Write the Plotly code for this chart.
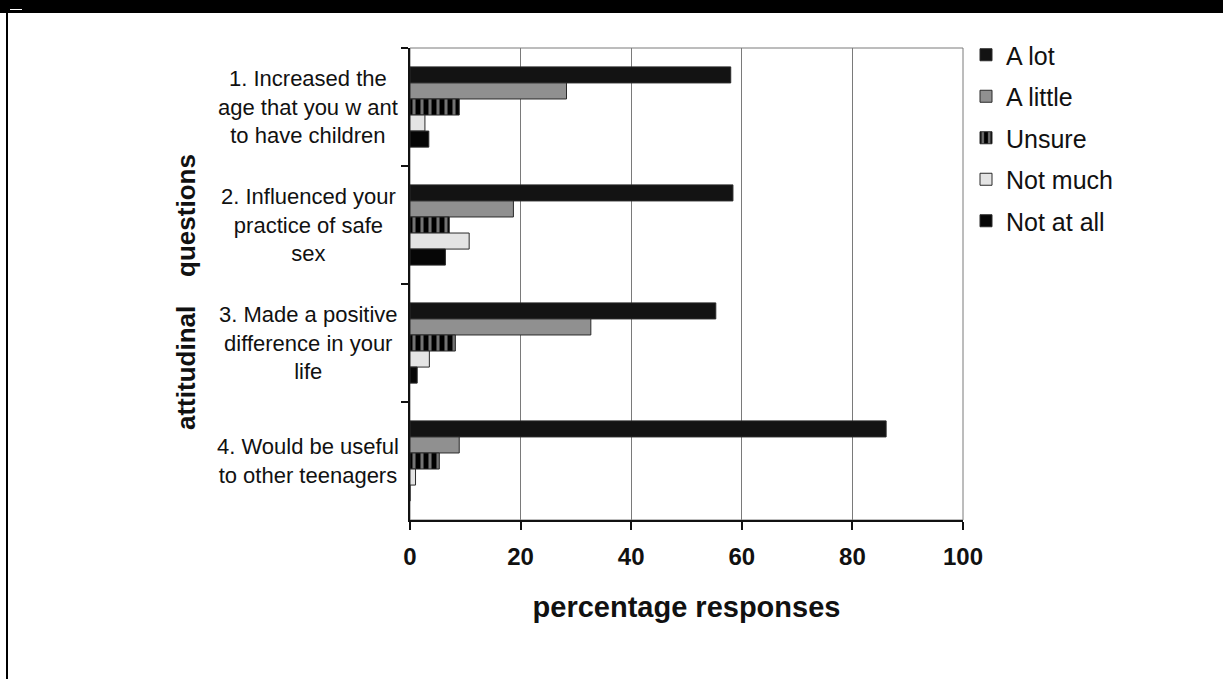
import plotly.graph_objects as go

categories = [
    "1. Increased the<br>age that you w ant<br>to have children",
    "2. Influenced your<br>practice of safe<br>sex",
    "3. Made a positive<br>difference in your<br>life",
    "4. Would be useful<br>to other teenagers",
]
series_names = ["A lot", "A little", "Unsure", "Not much", "Not at all"]
a_lot = [58.0, 58.4, 55.3, 86.1]
a_little = [28.3, 18.7, 32.7, 8.9]
unsure = [8.9, 7.1, 8.2, 5.3]
not_much = [2.7, 10.7, 3.5, 1.0]
not_at_all = [3.4, 6.4, 1.3, 0.0]
x_ticks = [0, 20, 40, 60, 80, 100]

W, H = 1223, 679
L, R, T, B = 410, 963, 48, 520

def px_x(p):
    return (p - L) / (R - L)

def px_y(p):
    return (B - p) / (B - T)

FONT = "Liberation Sans, Arial, sans-serif"

fig = go.Figure()
styles = [
    dict(color="#131313"),
    dict(color="#909090"),
    dict(color="#000000", pattern=dict(shape="|", fgcolor="#e6e6e6", bgcolor="#000000",
                                       size=8, solidity=0.38, fillmode="overlay")),
    dict(color="#e4e4e4"),
    dict(color="#060606"),
]
for name, vals, st in zip(series_names, [a_lot, a_little, unsure, not_much, not_at_all], styles):
    fig.add_trace(go.Bar(
        x=vals, y=categories, orientation="h", name=name,
        marker=dict(line=dict(color="#2a2a2a", width=1), **st),
        legendgroup=name,
    ))

fig.update_layout(
    width=W, height=H,
    margin=dict(l=L, r=W - R, t=T, b=H - B, pad=0),
    paper_bgcolor="white", plot_bgcolor="white",
    barmode="group", bargap=0.32, bargroupgap=0,
    font=dict(family=FONT, color="#111111"),
    showlegend=True,
    legend=dict(x=px_x(966), y=px_y(32), xanchor="left", yanchor="top",
                font=dict(size=25, family=FONT, color="#111111"),
                tracegroupgap=6, bgcolor="rgba(0,0,0,0)", itemwidth=30),
)
fig.update_xaxes(
    range=[0, 100], tickvals=x_ticks, ticktext=[str(v) for v in x_ticks],
    showgrid=True, gridcolor="#7a7a7a", gridwidth=1,
    showline=True, linecolor="#111111", linewidth=2,
    ticks="outside", ticklen=8, tickwidth=2, tickcolor="#111111",
    ticklabelstandoff=6,
    tickfont=dict(size=24, family=FONT, weight="bold", color="#111111"),
    zeroline=False,
    title=dict(text="percentage responses", standoff=28,
               font=dict(size=29, family=FONT, weight="bold", color="#111111")),
)
fig.update_yaxes(
    autorange="reversed", showticklabels=False,
    showline=True, linecolor="#111111", linewidth=2,
    ticks="outside", tickson="boundaries", ticklen=7, tickwidth=2, tickcolor="#111111",
    showgrid=False, zeroline=False,
)

annotations = []
for c in categories:
    annotations.append(dict(x=px_x(308), y=c, xref="paper", yref="y", text=c,
                            showarrow=False, xanchor="center", yanchor="middle", align="center",
                            font=dict(size=22, family=FONT, color="#111111")))
annotations.append(dict(x=px_x(186), y=px_y(292), xref="paper", yref="paper",
                        text="attitudinal\u00a0\u00a0\u00a0\u00a0questions", textangle=-90,
                        showarrow=False, xanchor="center", yanchor="middle",
                        font=dict(size=26, family=FONT, weight="bold", color="#111111")))
fig.update_layout(annotations=annotations)

shapes = [
    dict(type="rect", xref="paper", yref="paper", x0=0, x1=1, y0=0, y1=1,
         line=dict(color="#7a7a7a", width=1), layer="below"),
    dict(type="rect", xref="paper", yref="paper", x0=px_x(0), x1=px_x(W), y0=px_y(0), y1=px_y(13),
         line=dict(width=0), fillcolor="#000000"),
    dict(type="line", xref="paper", yref="paper", x0=px_x(7), x1=px_x(7), y0=px_y(0), y1=px_y(H),
         line=dict(color="#000000", width=2)),
    dict(type="line", xref="paper", yref="paper", x0=px_x(10), x1=px_x(22), y0=px_y(9.5), y1=px_y(9.5),
         line=dict(color="#ffffff", width=1)),
]
fig.update_layout(shapes=shapes)

fig.write_html("out.html", config={"displayModeBar": False},
               post_script="document.body.style.margin='0';")
